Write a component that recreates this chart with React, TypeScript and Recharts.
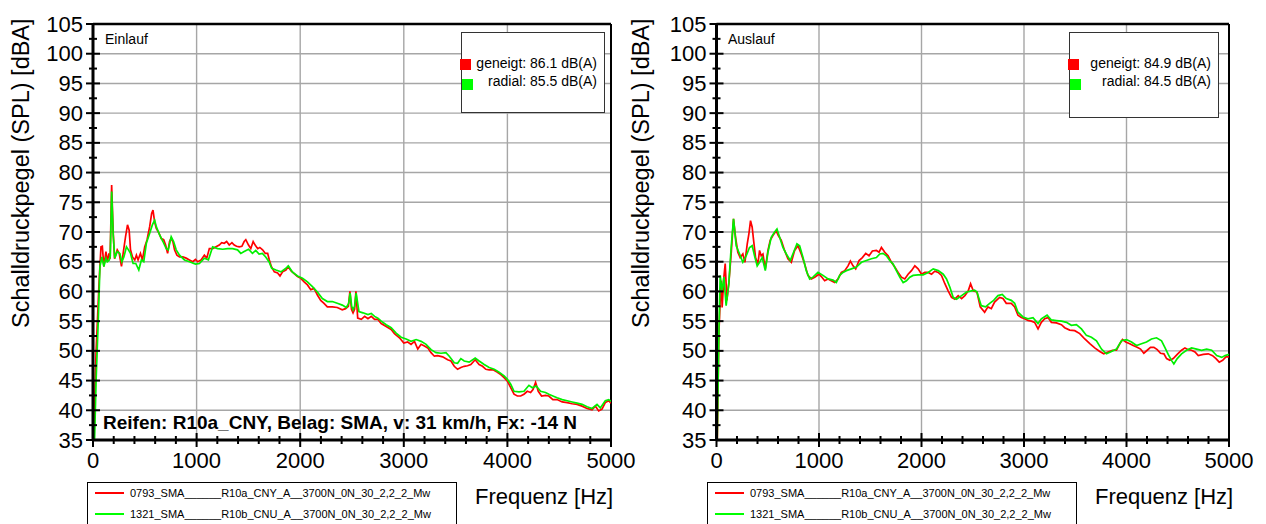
import React from 'react';
import { LineChart, Line, XAxis, YAxis, CartesianGrid, ReferenceLine } from 'recharts';

const FONT = '"Liberation Sans", Arial, Helvetica, sans-serif';

// ---------- tick values ----------
const xMajorTicks = [0, 1000, 2000, 3000, 4000, 5000];
const xAllTicks = [0, 200, 400, 600, 800, 1000, 1200, 1400, 1600, 1800, 2000, 2200, 2400, 2600, 2800, 3000, 3200, 3400, 3600, 3800, 4000, 4200, 4400, 4600, 4800, 5000];
const yMajorTicks = [35, 40, 45, 50, 55, 60, 65, 70, 75, 80, 85, 90, 95, 100, 105];
const yAllTicks = [35, 37.5, 40, 42.5, 45, 47.5, 50, 52.5, 55, 57.5, 60, 62.5, 65, 67.5, 70, 72.5, 75, 77.5, 80, 82.5, 85, 87.5, 90, 92.5, 95, 97.5, 100, 102.5, 105];

// ---------- series: [Frequenz Hz, SPL dBA] ----------
const einlaufGeneigt: [number, number][] = [
  [0, 35], [10, 35], [20, 44], [30, 50], [45, 56], [60, 62], [77, 67.5], [90, 67.6], [105, 64.2], [125, 66.7], [138, 65], [154, 66.4], [165, 65.5], [180, 77.9], [195, 70], [208, 65.5], [234, 67], [253, 66.4], [275, 64.2], [291, 66.4], [314, 69.2], [333, 71.2], [349, 70.3], [362, 67], [381, 65.8], [403, 65.3], [419, 66.1], [435, 65.3], [458, 66.4], [477, 65.3], [499, 67.5], [522, 68.7], [547, 70.9], [566, 73.1], [579, 73.7], [595, 71.7], [611, 70.6], [637, 69.8], [659, 68.9], [682, 68.7], [701, 67.8], [720, 66.4], [739, 68.4], [752, 68.9], [771, 68.4], [787, 67], [810, 66.1], [835, 65.8], [867, 65.8], [899, 65.6], [931, 65.3], [963, 65], [989, 65.4], [1011, 65], [1043, 65.3], [1075, 66.1], [1098, 65.6], [1123, 67.2], [1155, 67.2], [1187, 67.5], [1219, 67.8], [1242, 68.2], [1267, 68.1], [1290, 68.4], [1315, 67.8], [1341, 68.2], [1363, 67.8], [1386, 67.6], [1411, 67.5], [1437, 67.6], [1459, 68.4], [1475, 68.7], [1501, 67.8], [1523, 67.2], [1546, 68.4], [1565, 67.8], [1590, 67.2], [1610, 67.4], [1637, 67], [1663, 66.4], [1686, 66.4], [1702, 65.3], [1721, 64.2], [1750, 63.3], [1782, 63.1], [1805, 62.6], [1830, 63.3], [1862, 63.6], [1885, 64.2], [1910, 63.5], [1942, 63], [1974, 62.5], [2006, 62.2], [2038, 61.6], [2070, 61.1], [2102, 60.3], [2134, 60.5], [2166, 59.4], [2198, 58.5], [2230, 58], [2262, 57.4], [2310, 57.4], [2358, 57.3], [2406, 56.9], [2438, 57.1], [2465, 57.5], [2480, 60], [2495, 57], [2510, 56.4], [2525, 57], [2538, 60], [2555, 55.5], [2590, 55.3], [2622, 55.8], [2654, 55.4], [2686, 55.8], [2718, 55.3], [2750, 55.3], [2782, 54.6], [2830, 54.1], [2878, 53.6], [2910, 52.9], [2958, 52.2], [3000, 51.3], [3038, 51.5], [3070, 51.1], [3103, 51.6], [3135, 50.3], [3167, 51.1], [3199, 50.8], [3231, 50.5], [3263, 49.7], [3295, 49.1], [3327, 49.2], [3375, 49], [3423, 48.5], [3455, 48.3], [3487, 47.4], [3519, 46.9], [3551, 47.2], [3583, 47.4], [3615, 47.5], [3647, 47.7], [3689, 48.5], [3727, 47.7], [3760, 47.4], [3792, 46.9], [3824, 46.8], [3862, 46.8], [3904, 46.4], [3936, 46], [3968, 45.5], [4000, 44.9], [4032, 43.8], [4064, 42.7], [4096, 42.4], [4128, 42.4], [4160, 42.7], [4192, 43.2], [4224, 43], [4247, 43.5], [4272, 44.7], [4298, 43.2], [4330, 42.4], [4368, 42.5], [4400, 42.4], [4439, 41.8], [4480, 41.8], [4529, 41.4], [4577, 41.3], [4625, 41.1], [4673, 41], [4721, 40.7], [4769, 40.3], [4817, 40.1], [4849, 40.7], [4881, 39.9], [4913, 40.2], [4945, 41.3], [4978, 41.6], [5000, 41.2],
];

const einlaufRadial: [number, number][] = [
  [0, 35], [15, 35], [30, 45], [51, 55.2], [67, 64.2], [86, 65.8], [105, 64.2], [125, 65.6], [138, 65], [157, 65.3], [167, 66], [180, 76.8], [195, 69.5], [210, 65.6], [234, 66.7], [259, 66.4], [278, 65], [298, 65.8], [323, 67.5], [342, 67], [362, 66.4], [387, 64.7], [413, 64.7], [442, 63.6], [467, 65.3], [490, 65], [515, 68.1], [547, 69.8], [573, 71.2], [595, 72], [611, 70.9], [643, 69.5], [675, 68.4], [707, 67.2], [726, 67], [755, 69.2], [778, 68.4], [803, 67], [835, 66.1], [883, 65.3], [931, 65], [989, 64.6], [1027, 64.7], [1075, 65.6], [1114, 65.3], [1155, 67.5], [1203, 67.2], [1251, 67.1], [1299, 67.2], [1347, 67.2], [1395, 67], [1427, 66.4], [1459, 66.7], [1501, 67.1], [1539, 66.4], [1571, 66.9], [1603, 66.3], [1635, 66.4], [1667, 65.8], [1699, 65], [1725, 63.9], [1766, 63.6], [1814, 63.3], [1862, 63.9], [1885, 64.3], [1923, 63.3], [1974, 62.6], [2022, 62.2], [2070, 61.6], [2118, 60.8], [2166, 59.9], [2214, 58.8], [2262, 58.3], [2310, 58.3], [2358, 58], [2406, 57.7], [2445, 57.3], [2468, 58], [2482, 59.7], [2497, 57.5], [2510, 56.9], [2525, 57.5], [2540, 59.7], [2567, 56.6], [2606, 56.4], [2654, 56.1], [2686, 56.3], [2718, 55.8], [2750, 55.5], [2782, 55], [2830, 54.4], [2878, 53.9], [2926, 53], [2974, 52.3], [3022, 52], [3070, 51.6], [3119, 51.9], [3167, 51.6], [3215, 51.1], [3263, 50.2], [3311, 49.7], [3359, 49.6], [3407, 49.7], [3439, 49.1], [3487, 48], [3519, 47.9], [3551, 48.7], [3583, 48.3], [3631, 48.1], [3689, 48.8], [3727, 48.3], [3776, 47.7], [3824, 47.2], [3872, 46.9], [3920, 46.4], [3968, 45.8], [4000, 45.2], [4032, 44.4], [4064, 43.2], [4112, 43.1], [4160, 43.2], [4208, 44.2], [4240, 43.8], [4279, 44.1], [4320, 43.2], [4368, 43], [4400, 42.7], [4439, 42.4], [4480, 42.1], [4529, 41.8], [4577, 41.6], [4625, 41.4], [4673, 41.2], [4721, 41], [4769, 40.6], [4817, 40.3], [4865, 41], [4897, 40.4], [4945, 41.6], [4978, 41.8], [5000, 41.5],
];

const auslaufGeneigt: [number, number][] = [
  [0, 35], [8, 35], [23, 52.8], [35, 58], [46, 61.8], [55, 57.3], [72, 62.4], [85, 64.7], [101, 58.5], [120, 61.3], [143, 66.3], [166, 72.2], [186, 69.1], [208, 66.6], [231, 65.7], [257, 66.3], [277, 64.9], [300, 68], [316, 69.7], [332, 71.9], [348, 70.8], [362, 68.6], [381, 65.7], [404, 64.6], [420, 66.9], [436, 66], [453, 66.3], [476, 63.8], [502, 66.9], [524, 68.6], [550, 69.4], [583, 70.2], [603, 69.4], [632, 68.6], [664, 66.9], [697, 65.5], [730, 64.9], [762, 66.9], [795, 67.7], [827, 66.3], [860, 64.6], [892, 62.7], [925, 62.1], [958, 62.4], [1000, 62.9], [1023, 62.5], [1055, 61.8], [1088, 62.1], [1120, 61.8], [1153, 61.5], [1186, 62.1], [1218, 63.2], [1251, 63.5], [1283, 64.3], [1306, 65.1], [1332, 64.3], [1358, 63.8], [1391, 65.2], [1423, 65.7], [1456, 66.4], [1488, 66], [1521, 66.8], [1560, 66.9], [1586, 66.6], [1609, 67.4], [1642, 66.6], [1674, 66], [1707, 64.9], [1739, 64.1], [1772, 63.2], [1804, 62.4], [1837, 62.1], [1869, 62.9], [1902, 63.5], [1935, 64.3], [1967, 63.8], [2000, 62.9], [2032, 63.2], [2065, 63.2], [2098, 62.9], [2130, 63.4], [2163, 63.2], [2195, 62.7], [2228, 61.3], [2260, 60.1], [2293, 59], [2325, 58.7], [2358, 59.3], [2391, 58.8], [2423, 59.3], [2456, 60.1], [2479, 61.3], [2505, 60.1], [2541, 59.9], [2573, 57.4], [2616, 56.5], [2648, 57.4], [2681, 57.1], [2713, 58.2], [2762, 59], [2795, 58.8], [2827, 58], [2876, 58], [2909, 57.4], [2941, 56], [2974, 55.6], [3007, 55.4], [3039, 55.1], [3072, 55], [3104, 54.8], [3137, 53.7], [3169, 54.8], [3202, 55.4], [3235, 55.6], [3267, 54.8], [3316, 54.7], [3365, 54.4], [3397, 53.9], [3446, 53.5], [3495, 53.4], [3544, 52.9], [3593, 52], [3642, 51.2], [3690, 50.5], [3739, 49.9], [3778, 49.5], [3821, 49.8], [3863, 50.1], [3902, 50.1], [3935, 51.2], [3961, 51.9], [3993, 51.5], [4032, 51.2], [4065, 50.9], [4104, 50.6], [4137, 50.3], [4169, 49.6], [4202, 50.1], [4234, 50.6], [4267, 50.6], [4300, 50.2], [4332, 49.6], [4365, 49.5], [4391, 48.7], [4423, 48.4], [4456, 48.7], [4495, 49.4], [4537, 50.1], [4570, 50.5], [4602, 50.2], [4635, 50.1], [4668, 49.8], [4700, 49.2], [4749, 49.4], [4798, 49.5], [4840, 49.2], [4873, 48.7], [4905, 48.1], [4938, 48.4], [4970, 49], [5000, 49],
];

const auslaufRadial: [number, number][] = [
  [0, 35], [7, 35], [23, 52.8], [36, 62.7], [55, 60.1], [72, 62.4], [94, 57.6], [120, 61.3], [143, 67.4], [166, 72.2], [192, 67.7], [225, 66.3], [257, 64.9], [290, 66], [322, 67.4], [348, 67.7], [371, 66], [397, 64.3], [420, 64.9], [446, 65.7], [476, 63.5], [502, 66.6], [534, 69.1], [567, 70], [590, 70.5], [616, 69.1], [648, 67.4], [681, 66.3], [720, 65.2], [752, 66.6], [785, 68], [811, 67.7], [844, 65.7], [876, 63.5], [909, 62.1], [941, 62.4], [990, 63.2], [1039, 62.7], [1088, 62.1], [1137, 61.9], [1169, 61.5], [1202, 62.7], [1234, 63.2], [1267, 63.5], [1316, 63.8], [1365, 64.1], [1414, 64.9], [1462, 65.2], [1511, 65.5], [1560, 65.7], [1593, 66.3], [1625, 66.4], [1658, 66], [1690, 65.2], [1723, 64.6], [1755, 63.5], [1788, 62.4], [1821, 61.5], [1853, 61.8], [1886, 62.4], [1918, 62.7], [1967, 62.8], [2016, 62.8], [2065, 63.2], [2114, 63.8], [2163, 63.5], [2212, 62.9], [2244, 62.1], [2277, 60.7], [2309, 59], [2342, 58.7], [2391, 59.3], [2440, 59.9], [2488, 60.1], [2518, 60.2], [2541, 59.9], [2583, 57.6], [2625, 57.4], [2665, 58], [2704, 58.5], [2746, 59.3], [2788, 59.5], [2827, 58.8], [2876, 58.5], [2909, 58], [2941, 56.5], [2990, 55.7], [3039, 55.4], [3088, 55.6], [3137, 54.6], [3169, 55.4], [3225, 56], [3267, 55.2], [3316, 55.1], [3365, 55], [3414, 54.8], [3462, 54.3], [3511, 54.4], [3560, 53.7], [3609, 52.6], [3658, 52.3], [3707, 51.7], [3756, 50.3], [3805, 49.5], [3853, 49.9], [3902, 50.3], [3951, 51.7], [4000, 51.9], [4049, 51.5], [4098, 50.9], [4146, 51.2], [4195, 51.5], [4244, 52], [4293, 52.2], [4342, 51.7], [4374, 50.6], [4407, 49.4], [4439, 48.4], [4462, 47.8], [4495, 48.7], [4537, 49.5], [4586, 50.1], [4635, 50.5], [4684, 50.3], [4733, 50.1], [4782, 50.3], [4831, 50.1], [4880, 49.2], [4929, 48.9], [4962, 49.2], [5000, 49.4],
];

const seriesNames = ['0793_SMA______R10a_CNY_A__3700N_0N_30_2,2_2_Mw', '1321_SMA______R10b_CNU_A__3700N_0N_30_2,2_2_Mw'];
const einlaufLevels = ['geneigt: 86.1 dB(A)', 'radial: 85.5 dB(A)'];
const auslaufLevels = ['geneigt: 84.9 dB(A)', 'radial: 84.5 dB(A)'];

const RED = '#ff0000';
const GREEN = '#00f000';

const toRows = (pts: [number, number][]) => pts.map(([f, v]) => ({ f, v }));

const YTick = (props: any) => {
  const { x, y, payload } = props;
  const v = payload.value;
  const major = v % 5 === 0;
  const h = major ? 7 : 4;
  return (
    <g>
      <line x1={x - h} x2={x + h} y1={y} y2={y} stroke="#000" strokeWidth={2} />
      {major && (
        <text x={x - 10} y={y} textAnchor="end" dominantBaseline="central" fontSize={22} fontFamily={FONT} fill="#000">
          {v}
        </text>
      )}
    </g>
  );
};

const XTick = (props: any) => {
  const { x, y, payload } = props;
  const v = payload.value;
  const major = v % 1000 === 0;
  const h = major ? 7 : 4;
  return (
    <g>
      <line x1={x} x2={x} y1={y - h} y2={y + h} stroke="#000" strokeWidth={2} />
      {major && (
        <text x={x} y={y + 20} textAnchor="middle" dominantBaseline="central" fontSize={22} fontFamily={FONT} fill="#000">
          {v}
        </text>
      )}
    </g>
  );
};

type PanelProps = {
  left: number;
  width: number;
  mLeft: number;
  mRight: number;
  red: [number, number][];
  green: [number, number][];
};

const Panel = ({ left, width, mLeft, mRight, red, green }: PanelProps) => (
  <div style={{ position: 'absolute', left, top: 0 }}>
    <LineChart width={width} height={524} margin={{ top: 24, right: mRight, bottom: 44, left: mLeft }}>
      <CartesianGrid stroke="#a6a6a6" strokeWidth={1.4} horizontalValues={yMajorTicks} verticalValues={xMajorTicks} />
      <XAxis
        type="number"
        dataKey="f"
        domain={[0, 5000]}
        ticks={xAllTicks}
        interval={0}
        height={40}
        tickSize={0}
        tickMargin={0}
        tickLine={false}
        axisLine={{ stroke: '#000', strokeWidth: 3 }}
        tick={XTick}
        allowDataOverflow
      />
      <YAxis
        type="number"
        domain={[35, 105]}
        ticks={yAllTicks}
        interval={0}
        width={60}
        tickSize={0}
        tickMargin={0}
        tickLine={false}
        axisLine={{ stroke: '#000', strokeWidth: 3 }}
        tick={YTick}
        allowDataOverflow
      />
      <ReferenceLine y={105} stroke="#000" strokeWidth={2.5} />
      <ReferenceLine x={5000} stroke="#000" strokeWidth={2} />
      <Line data={toRows(red)} dataKey="v" type="linear" stroke={RED} strokeWidth={1.7} dot={false} isAnimationActive={false} />
      <Line data={toRows(green)} dataKey="v" type="linear" stroke={GREEN} strokeWidth={1.7} dot={false} isAnimationActive={false} />
    </LineChart>
  </div>
);

const txt = (extra: React.CSSProperties): React.CSSProperties => ({
  position: 'absolute',
  fontFamily: FONT,
  color: '#000',
  whiteSpace: 'nowrap',
  ...extra,
});

const Overlay = ({ x0, title, titleLeft, levels, boxLeft, boxWidth, boxHeight, textRight, annotation }: any) => (
  <>
    {/* Y axis title */}
    <div style={txt({ left: x0 + 10, top: 328, fontSize: 23.5, lineHeight: '23.5px', transform: 'rotate(-90deg)', transformOrigin: '0 0' })}>
      Schalldruckpegel (SPL) [dBA]
    </div>
    {/* panel title */}
    <div style={txt({ left: titleLeft, top: 31.5, fontSize: 14, lineHeight: '14px' })}>{title}</div>
    {/* level legend */}
    <div style={{ position: 'absolute', left: boxLeft, top: 32, width: boxWidth, height: boxHeight, border: '1px solid #333', background: '#fff', boxSizing: 'border-box' }} />
    <div style={{ position: 'absolute', left: boxLeft - 1, top: 59, width: 11, height: 11, background: RED }} />
    <div style={{ position: 'absolute', left: boxLeft + 1, top: 78.5, width: 11, height: 11, background: '#00ff00' }} />
    <div style={txt({ left: boxLeft, width: textRight - boxLeft, textAlign: 'right', top: 55.5, fontSize: 14, lineHeight: '14px' })}>{levels[0]}</div>
    <div style={txt({ left: boxLeft, width: textRight - boxLeft, textAlign: 'right', top: 73.9, fontSize: 14, lineHeight: '14px' })}>{levels[1]}</div>
    {annotation && (
      <div style={txt({ left: 103, top: 413, fontSize: 19, lineHeight: '19px', fontWeight: 'bold' })}>{annotation}</div>
    )}
    {/* X axis title */}
    <div style={txt({ left: x0 + 475, top: 486.3, fontSize: 22, lineHeight: '22px' })}>Frequenz [Hz]</div>
    {/* series legend */}
    <div style={{ position: 'absolute', left: x0 + 87, top: 482, width: 370, height: 50, border: '1px solid #000', background: '#fff', boxSizing: 'border-box' }} />
    <div style={{ position: 'absolute', left: x0 + 95, top: 492, width: 29, height: 2, background: RED }} />
    <div style={{ position: 'absolute', left: x0 + 95, top: 513, width: 29, height: 2, background: '#00ff00' }} />
    <div style={txt({ left: x0 + 130, top: 487.7, fontSize: 11, lineHeight: '11px' })}>{seriesNames[0]}</div>
    <div style={txt({ left: x0 + 130, top: 508.7, fontSize: 11, lineHeight: '11px' })}>{seriesNames[1]}</div>
  </>
);

export default function App() {
  return (
    <div style={{ position: 'fixed', left: 0, top: 0, width: 1266, height: 524, background: '#fff', overflow: 'hidden' }}>
      <Panel left={0} width={640} mLeft={33} mRight={29} red={einlaufGeneigt} green={einlaufRadial} />
      <Panel left={630} width={636} mLeft={26.5} mRight={37} red={auslaufGeneigt} green={auslaufRadial} />
      <Overlay
        x0={0}
        title="Einlauf"
        titleLeft={105}
        levels={einlaufLevels}
        boxLeft={461}
        boxWidth={144}
        boxHeight={81}
        textRight={597}
        annotation="Reifen: R10a_CNY, Belag: SMA, v: 31 km/h, Fx: -14 N"
      />
      <Overlay x0={620} title="Auslauf" titleLeft={728} levels={auslaufLevels} boxLeft={1069} boxWidth={150} boxHeight={86} textRight={1211} />
    </div>
  );
}
